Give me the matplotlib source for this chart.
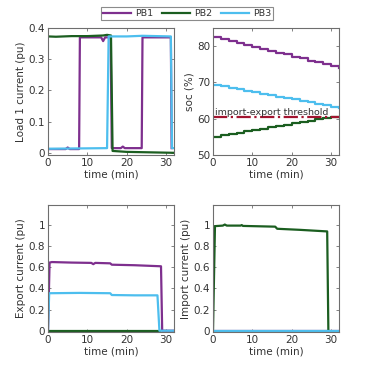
import numpy as np
import matplotlib
matplotlib.use('Agg')
import matplotlib.pyplot as plt

plt.rcParams['font.family'] = ['DejaVu Sans']
plt.rcParams['font.size'] = 7.5

# colours (MATLAB-like)
c_pb1 = '#7E2F8E'
c_pb2 = '#1B5E20'
c_pb3 = '#4DBEEE'
c_thr = '#A2142F'
c_txt = '#333333'
c_ax = '#6e6e6e'

names = ['PB1', 'PB2', 'PB3']

# load 1 current (pu)
t_load_pb1 = [0, 4.5, 5, 5.5, 7.9, 8.1, 13.5, 14, 14.5, 15.9, 16.2, 18.5, 19, 19.5, 23.8, 24.0, 31.2, 31.4]
load_pb1 = [0.012, 0.012, 0.017, 0.012, 0.012, 0.370, 0.370, 0.358, 0.370, 0.370, 0.015, 0.015, 0.020, 0.015, 0.015, 0.370, 0.370, 0.015]
t_load_pb2 = [0, 2, 6, 10, 14, 15, 16.0, 16.4, 20, 32]
load_pb2 = [0.373, 0.372, 0.374, 0.374, 0.376, 0.378, 0.376, 0.006, 0.003, 0.0]
t_load_pb3 = [0, 15.0, 15.4, 20, 24, 31.2, 31.5, 32]
load_pb3 = [0.013, 0.015, 0.373, 0.373, 0.375, 0.373, 0.015, 0.015]

# state of charge (%), stepped every 2 min
t_soc = [0, 2, 4, 6, 8, 10, 12, 14, 16, 18, 20, 22, 24, 26, 28, 30, 32]
soc_pb1 = [82.5, 82.0, 81.4, 80.9, 80.3, 79.8, 79.3, 78.7, 78.2, 77.7, 77.1, 76.6, 76.0, 75.5, 75.0, 74.4, 73.9]
soc_pb2 = [55.0, 55.4, 55.7, 56.1, 56.5, 56.8, 57.2, 57.6, 57.9, 58.3, 58.7, 59.0, 59.4, 59.8, 60.2, 60.5, 60.5]
soc_pb3 = [69.3, 68.9, 68.5, 68.1, 67.7, 67.3, 66.9, 66.5, 66.1, 65.7, 65.3, 64.9, 64.5, 64.1, 63.7, 63.3, 63.0]
threshold = 60.5

# export current (pu)
t_exp_pb1 = [0, 0.4, 1, 6, 11, 11.5, 12, 15.8, 16.2, 22, 28.7, 29.0, 32]
exp_pb1 = [0, 0.645, 0.650, 0.645, 0.642, 0.630, 0.642, 0.638, 0.625, 0.620, 0.610, 0.0, 0.0]
t_exp_pb2 = [0, 28.5]
exp_pb2 = [0.0, 0.0]
t_exp_pb3 = [0, 0.3, 8, 15.8, 16.2, 22, 27.8, 28.3, 32]
exp_pb3 = [0, 0.355, 0.358, 0.355, 0.338, 0.335, 0.335, 0.0, 0.0]

# import current (pu)
t_imp_pb1 = [0, 32]
imp_pb1 = [0.0, 0.0]
t_imp_pb2 = [0, 0.5, 2.5, 3, 3.5, 7, 7.3, 7.6, 15.8, 16.3, 22, 29.0, 29.3]
imp_pb2 = [0, 0.990, 0.995, 1.005, 0.995, 0.995, 1.0, 0.992, 0.985, 0.965, 0.955, 0.940, 0.0]
t_imp_pb3 = [0, 32]
imp_pb3 = [0.0, 0.0]

fig = plt.figure(figsize=(3.74, 3.74), dpi=100)
W = 126 / 374
H = 127 / 374
ax1 = fig.add_axes([48 / 374, 1 - 155 / 374, W, H])
ax2 = fig.add_axes([213 / 374, 1 - 155 / 374, W, H])
ax3 = fig.add_axes([48 / 374, 1 - 332 / 374, W, H])
ax4 = fig.add_axes([213 / 374, 1 - 332 / 374, W, H])

lw = 1.6

def style(ax):
    ax.set_xlim(0, 32)
    ax.set_xticks([0, 10, 20, 30])
    ax.tick_params(direction='in', top=True, right=True, length=2.5,
                   width=0.6, colors=c_ax, labelcolor=c_txt, pad=2)
    for s in ax.spines.values():
        s.set_color(c_ax)
        s.set_linewidth(0.8)
    ax.set_xlabel('time (min)', color=c_txt, labelpad=1)

# load 1 current
ax1.plot(t_load_pb1, load_pb1, color=c_pb1, lw=lw)
ax1.plot(t_load_pb2, load_pb2, color=c_pb2, lw=lw)
ax1.plot(t_load_pb3, load_pb3, color=c_pb3, lw=lw)
style(ax1)
ax1.set_ylim(-0.007, 0.4)
ax1.set_yticks([0, 0.1, 0.2, 0.3, 0.4])
ax1.set_yticklabels(['0', '0.1', '0.2', '0.3', '0.4'])
ax1.set_ylabel('Load 1 current (pu)', color=c_txt, labelpad=2)

# soc
l1, = ax2.step(t_soc, soc_pb1, where='post', color=c_pb1, lw=lw)
l2, = ax2.step(t_soc, soc_pb2, where='post', color=c_pb2, lw=lw)
l3, = ax2.step(t_soc, soc_pb3, where='post', color=c_pb3, lw=lw)
ax2.axhline(threshold, color=c_thr, ls='-.', lw=lw)
ax2.text(0.6, threshold + 0.6, 'import-export threshold', color=c_txt, fontsize=6.8)
style(ax2)
ax2.set_ylim(50, 85)
ax2.set_yticks([50, 60, 70, 80])
ax2.set_ylabel('soc (%)', color=c_txt, labelpad=2)

# export current
ax3.plot(t_exp_pb1, exp_pb1, color=c_pb1, lw=lw)
ax3.plot(t_exp_pb2, exp_pb2, color=c_pb2, lw=lw)
ax3.plot(t_exp_pb3, exp_pb3, color=c_pb3, lw=lw)
style(ax3)
ax3.set_ylim(-0.012, 1.19)
ax3.set_yticks([0, 0.2, 0.4, 0.6, 0.8, 1])
ax3.set_yticklabels(['0', '0.2', '0.4', '0.6', '0.8', '1'])
ax3.set_ylabel('Export current (pu)', color=c_txt, labelpad=2)

# import current
ax4.plot(t_imp_pb1, imp_pb1, color=c_pb1, lw=lw)
ax4.plot(t_imp_pb2, imp_pb2, color=c_pb2, lw=lw)
ax4.plot(t_imp_pb3, imp_pb3, color=c_pb3, lw=lw)
style(ax4)
ax4.set_ylim(-0.012, 1.19)
ax4.set_yticks([0, 0.2, 0.4, 0.6, 0.8, 1])
ax4.set_yticklabels(['0', '0.2', '0.4', '0.6', '0.8', '1'])
ax4.set_ylabel('Import current (pu)', color=c_txt, labelpad=2)

leg = fig.legend([l1, l2, l3], names, loc='center', bbox_to_anchor=(187 / 374, 1 - 13.5 / 374),
                 ncol=3, frameon=True, fancybox=False, edgecolor=c_ax, fontsize=6.8,
                 handlelength=3.0, handletextpad=0.4, columnspacing=0.9,
                 borderpad=0.25, labelcolor=c_txt)
leg.get_frame().set_linewidth(0.8)

fig.savefig('out.png', dpi=100)
